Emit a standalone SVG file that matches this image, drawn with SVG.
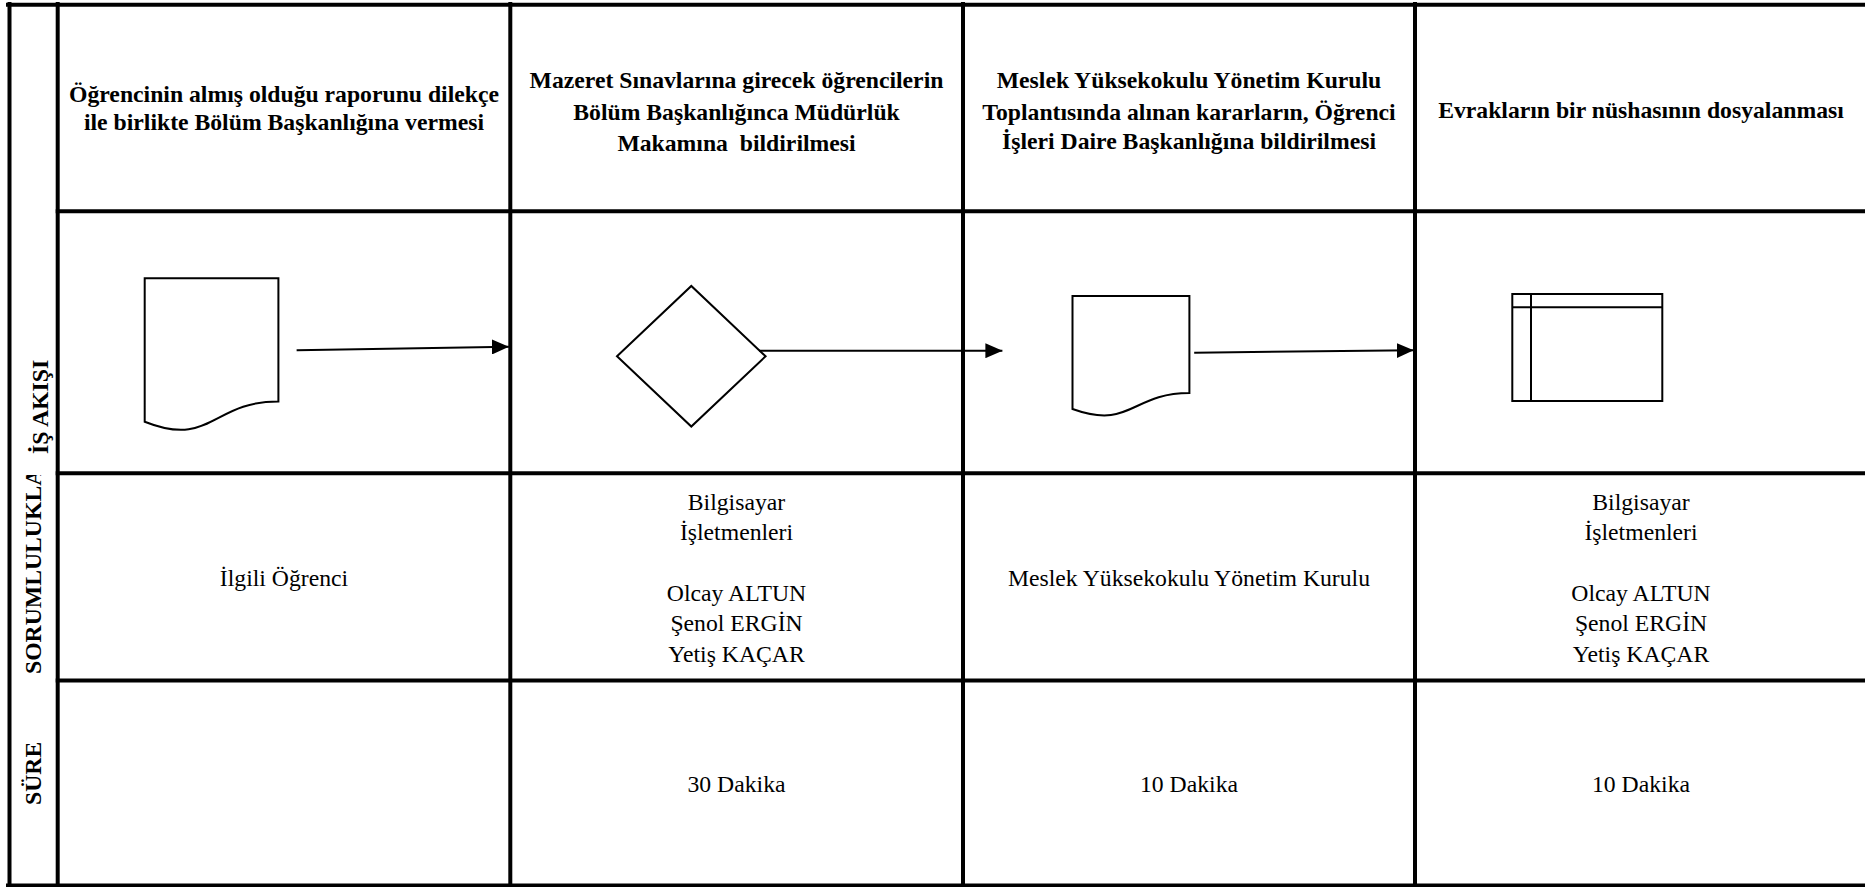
<svg xmlns="http://www.w3.org/2000/svg" width="1865" height="887" viewBox="0 0 1865 887">
<style>
.grid line{stroke:#000;stroke-width:4;stroke-linecap:square}
.hd{font-family:"Liberation Serif","DejaVu Serif",serif;font-weight:bold;font-size:23.7px;fill:#000;text-anchor:middle}
.bd{font-family:"Liberation Serif","DejaVu Serif",serif;font-weight:normal;font-style:normal;font-size:23.7px;fill:#000;text-anchor:middle}
.vl{font-family:"Liberation Serif","DejaVu Serif",serif;font-weight:bold;font-size:23.7px;fill:#000}
.shape{fill:#fff;stroke:#000;stroke-width:2}
.conn{stroke:#000;stroke-width:2;fill:none}
</style>
<defs>
<marker id="arr" markerUnits="userSpaceOnUse" markerWidth="17" markerHeight="15" refX="17" refY="7.5" orient="auto">
<path d="M0,0 L17,7.5 L0,15 Z" fill="#000"/>
</marker>
<clipPath id="clipSor"><rect x="10" y="475" width="46" height="205"/></clipPath>
</defs>
<rect x="0" y="0" width="1865" height="887" fill="#fff"/>
<g id="grid" class="grid">
<line x1="8" y1="4.7" x2="1870" y2="4.7"/>
<line x1="9.5" y1="4" x2="9.5" y2="886"/>
<line x1="57.7" y1="4" x2="57.7" y2="886"/>
<line x1="510.3" y1="4" x2="510.3" y2="886"/>
<line x1="963" y1="4" x2="963" y2="886"/>
<line x1="1415" y1="4" x2="1415" y2="886"/>
<line x1="57.7" y1="211.3" x2="1870" y2="211.3"/>
<line x1="57.7" y1="473.3" x2="1870" y2="473.3"/>
<line x1="57.7" y1="680.5" x2="1870" y2="680.5"/>
<line x1="8" y1="885.5" x2="1870" y2="885.5"/>
</g>
<g id="row-labels">
<text class="vl" transform="translate(47.5,454) rotate(-90)">İŞ AKIŞI</text>
<g clip-path="url(#clipSor)"><text class="vl" transform="translate(41,674) rotate(-90)">SORUMLULUKLAR</text></g>
<text class="vl" transform="translate(41,805) rotate(-90)">SÜRE</text>
</g>
<g id="headers">
<text class="hd" x="284" y="102">Öğrencinin almış olduğu raporunu dilekçe</text>
<text class="hd" x="284" y="130">ile birlikte Bölüm Başkanlığına vermesi</text>
<text class="hd" x="736.5" y="88">Mazeret Sınavlarına girecek öğrencilerin</text>
<text class="hd" x="736.5" y="119.5">Bölüm Başkanlığınca Müdürlük</text>
<text class="hd" x="736.5" y="151" style="white-space:pre">Makamına  bildirilmesi</text>
<text class="hd" x="1189" y="88">Meslek Yüksekokulu Yönetim Kurulu</text>
<text class="hd" x="1189" y="119.5">Toplantısında alınan kararların, Öğrenci</text>
<text class="hd" x="1189" y="149">İşleri Daire Başkanlığına bildirilmesi</text>
<text class="hd" x="1641" y="118.3">Evrakların bir nüshasının dosyalanması</text>
</g>
<g id="node-doc1">
<path class="shape" d="M144.7,278.3 H278.4 V401.4 C211.5,401.4 211.5,448.3 144.7,421.7 Z"/>
</g>
<g id="node-decision">
<polygon class="shape" points="617,356.3 691.3,286 765.6,356.3 691.3,426.5"/>
</g>
<g id="node-doc2">
<path class="shape" d="M1072.5,296 H1189.4 V393 C1131,393 1131,430 1072.5,409 Z"/>
</g>
<g id="node-storage">
<rect class="shape" x="1512.3" y="294" width="150" height="107"/>
<line class="conn" x1="1531" y1="294" x2="1531" y2="401"/>
<line class="conn" x1="1512.3" y1="307.3" x2="1662.3" y2="307.3"/>
</g>
<g id="connectors">
<line class="conn" x1="296.6" y1="350.3" x2="508.9" y2="346.7" marker-end="url(#arr)"/>
<line class="conn" x1="759" y1="350.7" x2="1002.4" y2="350.7" marker-end="url(#arr)"/>
<line class="conn" x1="1194.2" y1="352.7" x2="1413.7" y2="350.3" marker-end="url(#arr)"/>
</g>
<g id="responsibilities">
<text class="bd" x="284" y="585.5">İlgili Öğrenci</text>
<text class="bd" x="736.5" y="509.5">Bilgisayar</text>
<text class="bd" x="736.5" y="539.9">İşletmenleri</text>
<text class="bd" x="736.5" y="600.7">Olcay ALTUN</text>
<text class="bd" x="736.5" y="631.1">Şenol ERGİN</text>
<text class="bd" x="736.5" y="661.5">Yetiş KAÇAR</text>
<text class="bd" x="1189" y="585.5">Meslek Yüksekokulu Yönetim Kurulu</text>
<text class="bd" x="1641" y="509.5">Bilgisayar</text>
<text class="bd" x="1641" y="539.9">İşletmenleri</text>
<text class="bd" x="1641" y="600.7">Olcay ALTUN</text>
<text class="bd" x="1641" y="631.1">Şenol ERGİN</text>
<text class="bd" x="1641" y="661.5">Yetiş KAÇAR</text>
</g>
<g id="durations">
<text class="bd" x="736.5" y="791.5">30 Dakika</text>
<text class="bd" x="1189" y="791.5">10 Dakika</text>
<text class="bd" x="1641" y="791.5">10 Dakika</text>
</g>
</svg>
